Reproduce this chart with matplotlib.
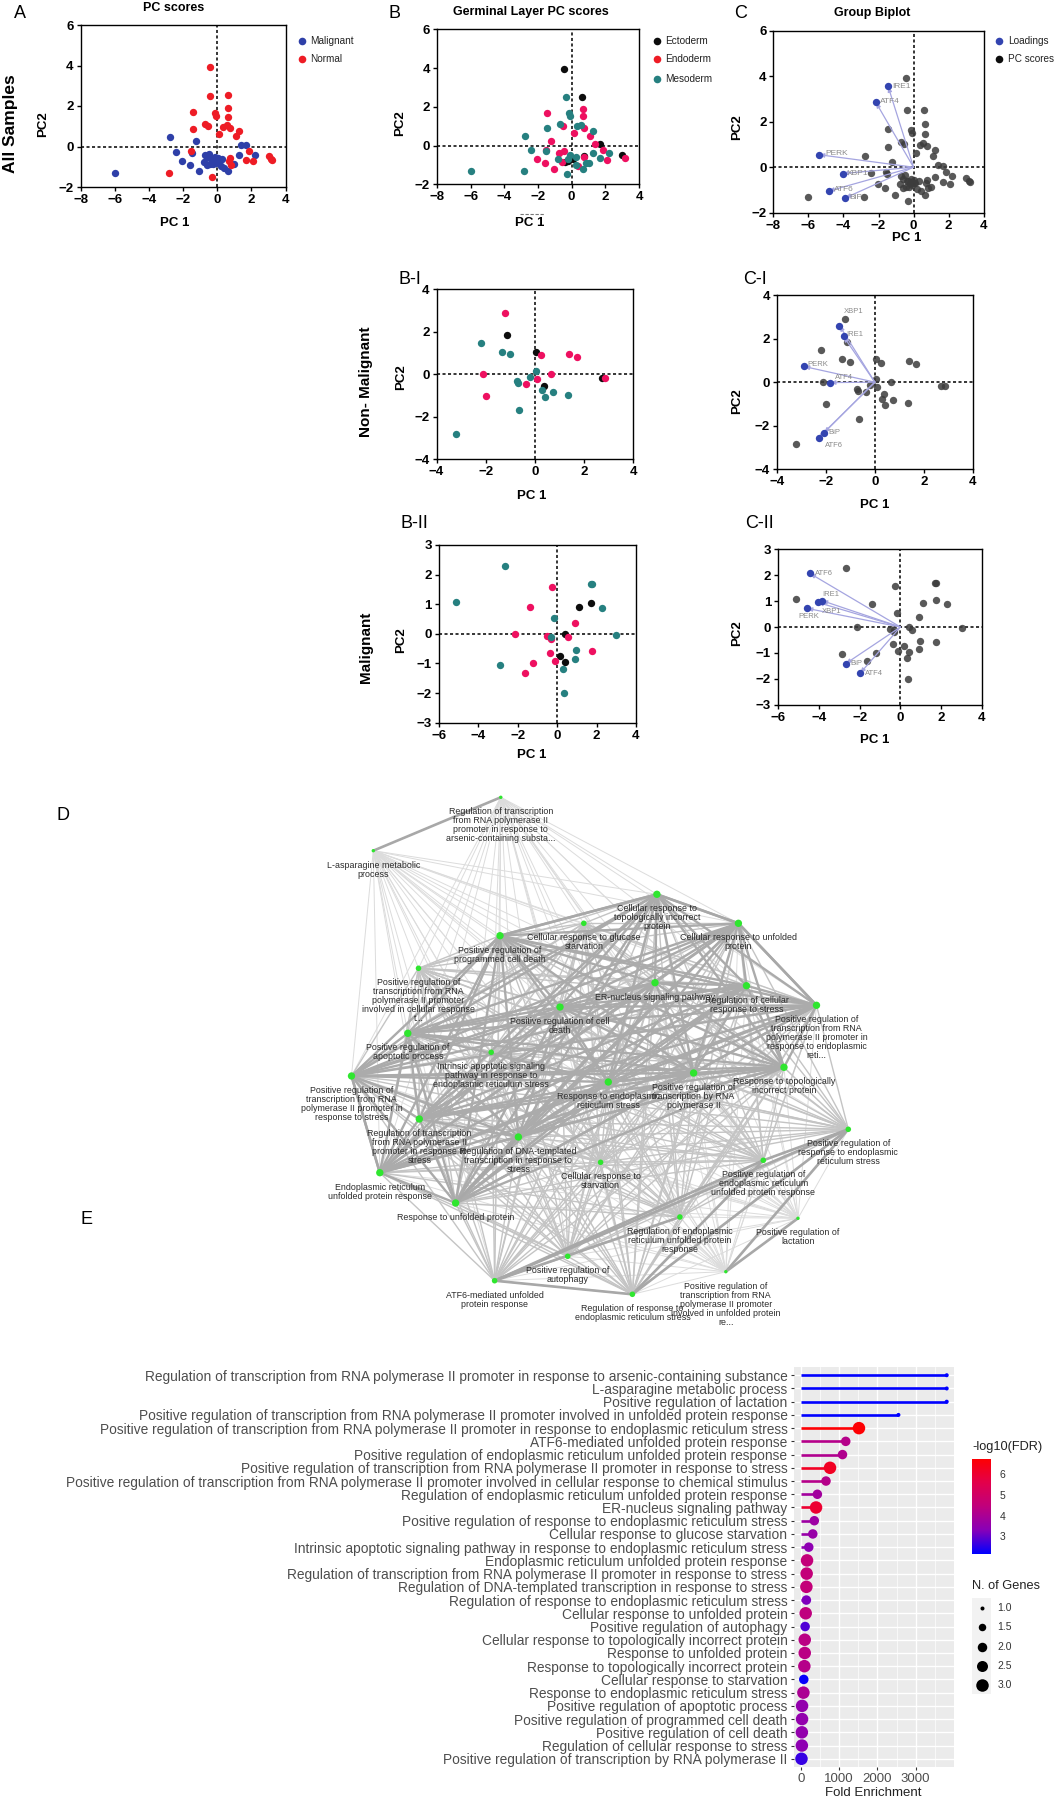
import numpy as np
import matplotlib
matplotlib.use("Agg")
import matplotlib.pyplot as plt
from matplotlib.collections import LineCollection
from matplotlib.colors import LinearSegmentedColormap, Normalize
from matplotlib.patches import Rectangle

W, H = 1055, 1800
plt.rcParams['font.family'] = ['Liberation Sans', 'DejaVu Sans']

# ---------- PCA data: all samples ----------
malignant = [(-6,-1.3),(-2.75,0.48),(-2.4,-0.25),(-2.05,-0.72),(-1.62,-0.9),(-1.5,-0.3),(-1.25,0.25),(-1.05,-1.23),
             (-0.8,-0.75),(-0.7,-0.4),(-0.6,-0.9),(-0.5,-0.35),(-0.45,-0.85),(-0.3,-0.6),(-0.25,-0.85),(-0.15,-0.5),
             (-0.1,-0.8),(0,-0.7),(0.05,-0.55),(0.1,-0.7),(0.2,-0.98),(0.3,-0.6),(0.4,-1.05),(0.65,-1.23),(1,-0.87),
             (1.25,-0.42),(1.4,0.08),(1.7,0.05),(2.2,-0.4),(-0.2,-0.7),(-0.6,-0.5),(-0.35,-0.6)]
normal = [(-0.45,3.93),(-0.4,2.5),(0.6,2.52),(0.65,1.88),(-1.45,1.68),(-0.15,1.65),(-0.1,1.5),(0.65,1.48),(-0.7,1.1),
          (-0.55,1.02),(-1.45,0.87),(0.35,0.98),(0.55,1.05),(0.75,0.92),(1.25,0.76),(1.1,0.5),(0.12,0.63),(-1.55,-0.2),
          (1.85,-0.23),(3.0,-0.47),(3.15,-0.62),(3.2,-0.65),(0.75,-0.55),(0.7,-0.7),(1.7,-0.67),(2.1,-0.73),(0.8,-0.92),
          (-2.85,-1.33),(-0.3,-1.5)]

b_ecto = [(-0.45,3.93),(0.6,2.52),(1.7,0.08),(3.0,-0.47),(0.75,-0.55),(-0.4,-0.85),(-0.2,-0.8),(0.1,-0.7)]
b_endo = [(-1.44,1.7),(0.65,1.9),(0.68,1.5),(0.76,0.93),(-0.54,1.03),(0.12,0.64),(1.1,0.5),(-1.24,0.25),(1.4,0.08),
          (-1.53,-0.22),(1.85,-0.22),(3.18,-0.62),(2.1,-0.74),(-2.03,-0.7),(-1.6,-0.88),(-1.03,-1.22),(-0.74,-0.4),
          (-0.44,-0.3),(-0.58,-0.85),(0.36,-1.03),(0.76,-0.57)]
b_meso = [(-0.36,2.5),(-0.14,1.67),(-0.08,1.5),(-0.68,1.12),(-1.44,0.9),(0.3,1.0),(0.56,1.08),(1.25,0.77),(1.25,-0.4),
          (2.2,-0.38),(1.7,-0.64),(0.86,-0.88),(1.0,-0.88),(0.66,-1.22),(0.24,-1.0),(0.28,-0.6),(-0.26,-1.48),
          (-0.1,-0.48),(-0.24,-0.7),(-0.84,-0.7),(-6,-1.3),(-2.85,-1.33),(-2.75,0.48),(-2.4,-0.25),(-1.5,-0.3)]

# ---------- Non-malignant ----------
bi_ecto = [(-1.15,1.85),(0.04,1.04),(2.72,-0.17),(0.36,-0.55)]
bi_endo = [(-1.2,2.9),(0.24,0.88),(1.4,0.96),(1.7,0.83),(-2.1,0),(0.66,0),(0.1,-0.23),(-0.37,-0.45),(-2,-1.02),(2.85,-0.17)]
bi_meso = [(-2.2,1.48),(-1.35,1.04),(-1,0.94),(0.06,0.13),(-0.2,-0.12),(-0.72,-0.3),(-0.7,-0.4),(0.3,-0.77),(0.76,-0.83),
           (0.42,-1.07),(1.37,-0.97),(-0.66,-1.71),(-3.22,-2.83)]

# ---------- Malignant ----------
bii_ecto = [(1.13,0.92),(1.74,1.05),(0.42,0.01),(0.17,-0.75),(0.42,-0.95)]
bii_endo = [(-0.27,1.58),(-1.39,0.9),(0.9,0.38),(-2.12,0.01),(-0.5,-0.08),(0.57,-0.1),(-0.3,-0.19),(-0.36,-0.65),
            (1.76,-0.59),(-0.1,-0.93),(-1.22,-0.99),(-1.64,-1.33)]
bii_meso = [(-2.65,2.29),(-5.1,1.08),(1.7,1.69),(1.76,1.69),(2.27,0.88),(-0.17,0.54),(3,-0.05),(-0.3,-0.11),(0.97,-0.54),
            (0.9,-0.84),(-2.88,-1.06),(0.3,-1.19),(0.36,-1.99)]

# ---------- Loadings ----------
c_names = ['IRE1','ATF4','PERK','XBP1','ATF6','BiP']
c_load = [(-1.45,3.55),(-2.15,2.85),(-5.4,0.55),(-4.05,-0.28),(-4.85,-1.05),(-3.9,-1.35)]
c_lab = [(-1.2,3.55),(-1.9,2.9),(-5.05,0.6),(-3.8,-0.28),(-4.55,-1.0),(-3.65,-1.35)]
ci_names = ['XBP1','IRE1','PERK','ATF4','BiP','ATF6']
ci_load = [(-1.45,2.6),(-1.28,2.1),(-2.9,0.72),(-1.83,-0.02),(-2.08,-2.33),(-2.3,-2.55)]
ci_lab = [(-1.25,3.25),(-1.15,2.2),(-2.75,0.8),(-1.65,0.2),(-1.9,-2.3),(-2.05,-2.9)]
cii_names = ['ATF6','IRE1','','PERK','BiP','ATF4']
cii_load = [(-4.44,2.07),(-3.85,1.02),(-4.05,0.95),(-4.58,0.72),(-2.69,-1.42),(-1.98,-1.79)]
cii_lab = [(-4.2,2.07),(-3.85,1.27),(-3.9,0.95),(-5.0,0.4),(-2.45,-1.42),(-1.75,-1.79)]
cii_extra = ('XBP1', (-3.85, 0.6))

# ---------- Enrichment ----------
terms = ["Regulation of transcription from RNA polymerase II promoter in response to arsenic-containing substance",
 "L-asparagine metabolic process","Positive regulation of lactation",
 "Positive regulation of transcription from RNA polymerase II promoter involved in unfolded protein response",
 "Positive regulation of transcription from RNA polymerase II promoter in response to endoplasmic reticulum stress",
 "ATF6-mediated unfolded protein response","Positive regulation of endoplasmic reticulum unfolded protein response",
 "Positive regulation of transcription from RNA polymerase II promoter in response to stress",
 "Positive regulation of transcription from RNA polymerase II promoter involved in cellular response to chemical stimulus",
 "Regulation of endoplasmic reticulum unfolded protein response","ER-nucleus signaling pathway",
 "Positive regulation of response to endoplasmic reticulum stress","Cellular response to glucose starvation",
 "Intrinsic apoptotic signaling pathway in response to endoplasmic reticulum stress",
 "Endoplasmic reticulum unfolded protein response","Regulation of transcription from RNA polymerase II promoter in response to stress",
 "Regulation of DNA-templated transcription in response to stress","Regulation of response to endoplasmic reticulum stress",
 "Cellular response to unfolded protein","Positive regulation of autophagy","Cellular response to topologically incorrect protein",
 "Response to unfolded protein","Response to topologically incorrect protein","Cellular response to starvation",
 "Response to endoplasmic reticulum stress","Positive regulation of apoptotic process","Positive regulation of programmed cell death",
 "Positive regulation of cell death","Regulation of cellular response to stress","Positive regulation of transcription by RNA polymerase II"]
fold = [3810,3810,3810,2550,1520,1175,1090,765,660,435,400,355,315,210,165,155,148,148,130,115,105,105,95,80,70,35,35,30,30,20]
genes = [1,1,1,1,3,2,2,3,2,2,3,2,2,2,3,3,3,2,3,2,3,3,3,2,3,3,3,3,3,3]
logfdr = [2.13,2.13,2.13,2.13,6.7,4.2,4.1,6.2,4.2,3.8,6.0,3.7,3.6,3.4,4.5,4.5,4.5,3.2,4.4,2.8,4.3,4.3,4.2,2.2,4.0,3.5,3.5,3.5,3.4,2.6]

# ---------- Network ----------
net_labels = ["Regulation of transcription\nfrom RNA polymerase II\npromoter in response to\narsenic-containing substa...",
 "L-asparagine metabolic\nprocess","Cellular response to\ntopologically incorrect\nprotein","Cellular response to glucose\nstarvation",
 "Cellular response to unfolded\nprotein","Positive regulation of\nprogrammed cell death",
 "Positive regulation of\ntranscription from RNA\npolymerase II promoter\ninvolved in cellular response\nt...",
 "ER-nucleus signaling pathway","Regulation of cellular\nresponse to stress",
 "Positive regulation of\ntranscription from RNA\npolymerase II promoter in\nresponse to endoplasmic\nreti...",
 "Positive regulation of cell\ndeath","Positive regulation of\napoptotic process",
 "Intrinsic apoptotic signaling\npathway in response to\nendoplasmic reticulum stress",
 "Positive regulation of\ntranscription from RNA\npolymerase II promoter in\nresponse to stress",
 "Response to endoplasmic\nreticulum stress","Positive regulation of\ntranscription by RNA\npolymerase II",
 "Response to topologically\nincorrect protein","Regulation of transcription\nfrom RNA polymerase II\npromoter in response to\nstress",
 "Regulation of DNA-templated\ntranscription in response to\nstress","Positive regulation of\nresponse to endoplasmic\nreticulum stress",
 "Cellular response to\nstarvation","Positive regulation of\nendoplasmic reticulum\nunfolded protein response",
 "Endoplasmic reticulum\nunfolded protein response","Response to unfolded protein",
 "Regulation of endoplasmic\nreticulum unfolded protein\nresponse","Positive regulation of\nlactation",
 "Positive regulation of\nautophagy","Positive regulation of\ntranscription from RNA\npolymerase II promoter\ninvolved in unfolded protein\nre...",
 "ATF6-mediated unfolded\nprotein response","Regulation of response to\nendoplasmic reticulum stress"]
net_x = [500.8,373.3,656.9,583.8,738.4,500,418.5,655,746.5,816.5,560,407.8,491.2,351.5,608.3,693.6,784,419.3,518.4,848.3,600.6,763.3,379.8,455.6,679.9,798,567.7,725.8,494.6,632.4]
net_y = [797.3,850.7,894.3,923.3,923.3,935.7,968.3,982.7,985.7,1005.3,1007,1033.3,1052.3,1076,1082,1073,1067.3,1119,1137,1129.3,1162.3,1160.3,1172.7,1203,1217,1218.3,1256.3,1271.7,1280.7,1294.3]
net_genes = [1,1,3,2,3,3,2,3,3,3,3,3,2,3,3,3,3,3,3,2,2,2,3,3,2,1,2,1,2,2]
net_strong = [(0,1),(28,29),(28,19),(28,21),(28,24),(29,21),(29,19),(27,25),(27,19),(2,4),(2,5),(4,9),(23,18),(22,13),(21,19)]

fig = plt.figure(figsize=(W/100, H/100), dpi=100, facecolor='white')

def axpx(l, r, t, b, **kw):
    return fig.add_axes([l/W, 1-b/H, (r-l)/W, (b-t)/H], **kw)

over = fig.add_axes([0, 0, 1, 1], zorder=0)
over.set_xlim(0, W); over.set_ylim(H, 0); over.axis('off')
top = fig.add_axes([0, 0, 1, 1], zorder=10)
top.set_xlim(0, W); top.set_ylim(H, 0); top.axis('off'); top.patch.set_alpha(0)

BLUE, RED, PINK, TEAL, BLK = '#2e3fa8', '#ee1c25', '#ee1060', '#268080', '#0d0d0d'
NARROW = ['Liberation Sans Narrow', 'Liberation Sans']

def pca_axes(box, xlim, ylim, xt, yt):
    ax = axpx(*box, zorder=2)
    ax.set_xlim(*xlim); ax.set_ylim(*ylim)
    ax.set_xticks(xt); ax.set_yticks(yt)
    ax.tick_params(length=3, width=1, pad=2, labelsize=9.5)
    for lab in ax.get_xticklabels()+ax.get_yticklabels():
        lab.set_family(NARROW); lab.set_fontweight('bold')
    for s in ax.spines.values():
        s.set_linewidth(1.0)
    ax.axhline(0, color='k', lw=1.1, ls=(0, (2, 1.6)), zorder=1)
    ax.axvline(0, color='k', lw=1.1, ls=(0, (2, 1.6)), zorder=1)
    return ax

def dots(ax, pts, c, s=28, alpha=1, z=3):
    p = np.array(pts)
    ax.scatter(p[:, 0], p[:, 1], s=s, c=c, alpha=alpha, linewidths=0, zorder=z, clip_on=False)

def biplot(ax, scores, load, names, lab, size):
    dots(ax, scores, '#3c3c3c', alpha=0.85, s=28)
    for (x, y), n, (lx, ly) in zip(load, names, lab):
        ax.annotate('', xy=(x, y), xytext=(0, 0),
                    arrowprops=dict(arrowstyle='-|>,head_length=0.3,head_width=0.12', color='#a5a5e0', lw=0.9, shrinkA=0, shrinkB=0), zorder=4)
        if n:
            ax.text(lx, ly, n, fontsize=size, color='#8a8a8a', va='center', ha='left', zorder=6)
    dots(ax, load, '#3344b0', s=28, z=5)

# Panel A
ax = pca_axes((80.5, 285.7, 25, 187), (-8, 4), (-2, 6), range(-8, 5, 2), range(-2, 7, 2))
dots(ax, malignant, BLUE); dots(ax, normal, RED)
# Panel B
ax = pca_axes((437, 639, 29.3, 184.3), (-8, 4), (-2, 6), range(-8, 5, 2), range(-2, 7, 2))
dots(ax, b_ecto, BLK); dots(ax, b_endo, PINK); dots(ax, b_meso, TEAL)
# Panel C
ax = pca_axes((773.4, 983.6, 30.7, 212.7), (-8, 4), (-2, 6), range(-8, 5, 2), range(-2, 7, 2))
biplot(ax, malignant+normal, c_load, c_names, c_lab, 6)
# Panel B-I
ax = pca_axes((436.6, 633, 289.3, 459), (-4, 4), (-4, 4), range(-4, 5, 2), range(-4, 5, 2))
dots(ax, bi_ecto, BLK); dots(ax, bi_endo, PINK); dots(ax, bi_meso, TEAL)
# Panel C-I
ax = pca_axes((777, 972.7, 295, 469.3), (-4, 4), (-4, 4), range(-4, 5, 2), range(-4, 5, 2))
biplot(ax, bi_ecto+bi_endo+bi_meso, ci_load, ci_names, ci_lab, 5.5)
# Panel B-II
ax = pca_axes((438.7, 636, 545, 722.7), (-6, 4), (-3, 3), range(-6, 5, 2), range(-3, 4))
dots(ax, bii_ecto, BLK); dots(ax, bii_endo, PINK); dots(ax, bii_meso, TEAL)
# Panel C-II
ax = pca_axes((778, 982, 549.3, 704.7), (-6, 4), (-3, 3), range(-6, 5, 2), range(-3, 4))
biplot(ax, bii_ecto+bii_endo+bii_meso, cii_load, cii_names, cii_lab, 5.5)
ax.text(cii_extra[1][0], cii_extra[1][1], cii_extra[0], fontsize=5.5, color='#8a8a8a', va='center', zorder=6)

# free text on the page
def ptxt(x, y, s, size, weight='normal', color='k', rot=0, ha='center', family=None):
    top.text(x, y, s, fontsize=size, fontweight=weight, color=color, rotation=rot, ha=ha, va='center',
             family=family if family else plt.rcParams['font.family'])

for x, y, s in [(20,14,'A'),(394,14,'B'),(741,14,'C'),(399,280,'B-I'),(743,280,'C-I'),(401,523,'B-II'),(745,523,'C-II'),(63,815,'D'),(87,1220,'E')]:
    ptxt(x, y, s, 13, ha='left' if '-' in s else 'center')
for x, y, s in [(174,8,'PC scores'),(531,12,'Germinal Layer PC scores'),(872.5,13,'Group Biplot')]:
    ptxt(x, y, s, 9, 'bold')
for x, y in [(175,223),(530,223),(907,238),(532,496),(875,505),(532,755),(875,740)]:
    ptxt(x, y, 'PC 1', 9.5, 'bold')
for x, y in [(43,124),(400.6,123),(737.6,127),(401,377),(737,401),(401,640),(737,633)]:
    ptxt(x, y, 'PC2', 9.5, 'bold', rot=90)
ptxt(11, 124, 'All Samples', 12.5, 'bold', rot=90)
ptxt(366, 382, 'Non- Malignant', 11, 'bold', rot=90)
ptxt(366, 647, 'Malignant', 11, 'bold', rot=90)
top.plot([520, 545], [213.5, 213.5], color='#777777', lw=0.8, ls=(0, (3, 1.5)))

for dx, tx, items in [(302, 310, [(40.7, BLUE, 'Malignant'), (59.3, RED, 'Normal')]),
                      (656.5, 665.6, [(41, BLK, 'Ectoderm'), (59, RED, 'Endoderm'), (79, TEAL, 'Mesoderm')]),
                      (998.7, 1008, [(41, '#3344b0', 'Loadings'), (59, BLK, 'PC scores')])]:
    for y, c, s in items:
        top.scatter([dx], [y], s=30, c=c, linewidths=0)
        ptxt(tx, y, s, 7.2, ha='left', color='#222222')

# Network
segs = {0.5: [], 1: [], 2: []}
n = len(net_x)
for i in range(n):
    for j in range(i+1, n):
        m = min(net_genes[i], net_genes[j])
        key = {1: 0.5, 2: 1, 3: 2}[m]
        segs[key].append([(net_x[i], net_y[i]), (net_x[j], net_y[j])])
over.add_collection(LineCollection(segs[0.5], colors='#dcdcdc', linewidths=0.7, zorder=1))
over.add_collection(LineCollection(segs[1], colors='#c4c4c4', linewidths=1.0, zorder=2))
over.add_collection(LineCollection(segs[2], colors='#ababab', linewidths=1.7, zorder=3))
over.add_collection(LineCollection([[(net_x[a], net_y[a]), (net_x[b], net_y[b])] for a, b in net_strong],
                                   colors='#a8a8a8', linewidths=1.9, zorder=4))
over.scatter(net_x, net_y, s=[{1: 6, 2: 16, 3: 28}[g] for g in net_genes], c='#2fe62f', linewidths=0, zorder=5)
for x, y, s in zip(net_x, net_y, net_labels):
    top.text(x, y+10, s, fontsize=6.4, color='#2a2a2a', ha='center', va='top', linespacing=1.0)

# Enrichment lollipop
ax = axpx(793.7, 954, 1367.3, 1766.7, zorder=2)
ax.set_facecolor('#EBEBEB')
ax.set_xlim(-183, 4000)
ypos = np.arange(len(terms))
ax.set_ylim(len(terms)-1+0.6, -0.6)
cmap = LinearSegmentedColormap.from_list('fdr', ['#0000FF', '#8900B8', '#C1007C', '#E4004A', '#FF0000'])
norm = Normalize(2.13, 6.76)
for s in ax.spines.values():
    s.set_visible(False)
ax.set_axisbelow(True)
ax.set_xticks([0, 1000, 2000, 3000]); ax.set_xticks([500, 1500, 2500, 3500], minor=True)
ax.grid(True, which='major', color='white', lw=1.0)
ax.grid(True, which='minor', axis='x', color='white', lw=0.5)
ax.set_yticks(ypos); ax.set_yticklabels(terms)
ax.tick_params(axis='y', length=2.5, width=0.8, color='#333333', labelsize=9.93, labelcolor='#4d4d4d', pad=2)
ax.tick_params(axis='x', which='major', length=2.5, width=0.8, color='#333333', labelsize=9.5, labelcolor='#4d4d4d', pad=2)
ax.tick_params(axis='x', which='minor', length=0)
cols = cmap(norm(np.array(logfdr)))
ax.hlines(ypos, 0, fold, colors=cols, lw=1.9, zorder=3)
key_genes = [1.0, 1.5, 2.0, 2.5, 3.0]
key_d = [4, 7.5, 9.5, 11, 12.5]
ax.scatter(fold, ypos, s=(np.interp(genes, key_genes, key_d)*0.72)**2, c=cols, linewidths=0, zorder=4, clip_on=False)
ptxt(873.5, 1793, 'Fold Enrichment', 9.5, color='#222222')

cb = axpx(972, 991, 1458.7, 1554, zorder=2)
cb.imshow(np.linspace(1, 0, 256)[:, None], aspect='auto', cmap=cmap, extent=[0, 1, 2.13, 6.76])
cb.set_xticks([]); cb.yaxis.tick_right(); cb.set_yticks([3, 4, 5, 6])
cb.tick_params(axis='y', length=0, labelsize=7.5, labelcolor='#333333', pad=6)
for s in cb.spines.values():
    s.set_visible(False)
ptxt(972, 1446.7, '-log10(FDR)', 9.2, ha='left', color='#222222')
ptxt(972, 1586, 'N. of Genes', 9.2, ha='left', color='#222222')
top.add_patch(Rectangle((972, 1598), 19, 96, fc='#F2F2F2', ec='none', zorder=0))
for y, g, d in zip([1608, 1627.3, 1646.7, 1666, 1685], key_genes, key_d):
    top.scatter([981.5], [y], s=(d*0.72)**2, c='k', linewidths=0, zorder=2)
    ptxt(997.7, y, f'{g:.1f}', 7.5, ha='left', color='#333333')

fig.savefig('out.png', dpi=100)
